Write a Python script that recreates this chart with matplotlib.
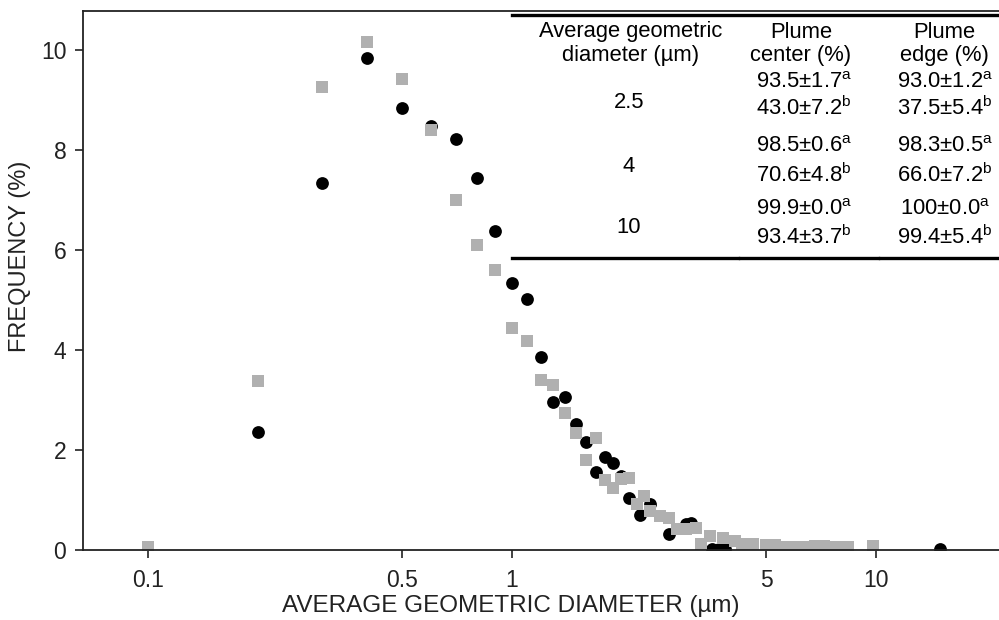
import matplotlib
matplotlib.use("Agg")
from matplotlib import pyplot as plt
from matplotlib.lines import Line2D

plt.rcParams['font.family'] = ['Liberation Sans', 'DejaVu Sans']
plt.rcParams['mathtext.fontset'] = 'custom'
plt.rcParams['mathtext.rm'] = 'Liberation Sans'

# gray squares
gray_x = [0.1, 0.2, 0.3, 0.4, 0.5, 0.6, 0.7, 0.8, 0.9, 1.0, 1.1, 1.2, 1.3, 1.4, 1.5,
          1.6, 1.7, 1.8, 1.9, 2.0, 2.1, 2.2, 2.3, 2.4, 2.55, 2.7, 2.85, 3.0, 3.2, 3.3,
          3.5, 3.8, 4.1, 4.3, 4.6, 5.0, 5.3, 5.6, 6.0, 6.4, 6.8, 7.2, 7.6, 8.0, 8.4, 9.8]
gray_y = [0.06, 3.38, 9.26, 10.16, 9.42, 8.40, 7.00, 6.10, 5.60, 4.44, 4.18, 3.40, 3.30, 2.74, 2.34,
          1.80, 2.24, 1.40, 1.24, 1.42, 1.44, 0.92, 1.08, 0.78, 0.68, 0.64, 0.42, 0.42, 0.44, 0.12,
          0.28, 0.24, 0.18, 0.12, 0.12, 0.10, 0.10, 0.06, 0.06, 0.06, 0.08, 0.08, 0.06, 0.05, 0.05, 0.08]

# black circles
black_x = [0.2, 0.3, 0.4, 0.5, 0.6, 0.7, 0.8, 0.9, 1.0, 1.1, 1.2, 1.3, 1.4, 1.5, 1.6,
           1.7, 1.8, 1.9, 2.0, 2.1, 2.25, 2.4, 2.7, 3.0, 3.1, 3.55, 3.7, 3.85, 15.0]
black_y = [2.36, 7.34, 9.84, 8.84, 8.48, 8.22, 7.44, 6.38, 5.34, 5.02, 3.86, 2.96, 3.06, 2.52, 2.16,
           1.56, 1.86, 1.74, 1.48, 1.04, 0.70, 0.92, 0.32, 0.52, 0.54, 0.02, 0.02, 0.02, 0.02]

xticks = [0.1, 0.5, 1, 5, 10]
xticklabels = ['0.1', '0.5', '1', '5', '10']
yticks = [0, 2, 4, 6, 8, 10]

# table contents
tab_header = ['Average geometric\ndiameter (µm)', 'Plume\ncenter (%)', 'Plume\nedge (%)']
tab_sizes = ['2.5', '4', '10']
tab_center = ['93.5±1.7$^{\\mathrm{a}}$', '43.0±7.2$^{\\mathrm{b}}$',
              '98.5±0.6$^{\\mathrm{a}}$', '70.6±4.8$^{\\mathrm{b}}$',
              '99.9±0.0$^{\\mathrm{a}}$', '93.4±3.7$^{\\mathrm{b}}$']
tab_edge = ['93.0±1.2$^{\\mathrm{a}}$', '37.5±5.4$^{\\mathrm{b}}$',
            '98.3±0.5$^{\\mathrm{a}}$', '66.0±7.2$^{\\mathrm{b}}$',
            '100±0.0$^{\\mathrm{a}}$', '99.4±5.4$^{\\mathrm{b}}$']

W, H = 999, 620
fig = plt.figure(figsize=(W / 100, H / 100), dpi=100)
ax = fig.add_axes([83 / W, (H - 550) / H, (W - 83) / W, 539 / H])

ax.plot(black_x, black_y, 'o', color='black', markersize=9.2, markeredgewidth=0)
ax.plot(gray_x, gray_y, 's', color='#b0b0b0', markersize=9.0, markeredgewidth=0)

ax.set_xscale('log')
ax.set_xlim(0.0663, 21.8)
ax.set_ylim(0, 10.77)
ax.set_xticks(xticks)
ax.set_xticklabels(xticklabels)
ax.minorticks_off()
ax.set_yticks(yticks)
ax.tick_params(direction='out', length=6, width=1.2, labelsize=16.5, colors='#222222', pad=6)
ax.tick_params(axis='x', pad=8)
for s in ['left', 'bottom', 'top']:
    ax.spines[s].set_linewidth(1.3)
    ax.spines[s].set_color('#222222')
ax.spines['right'].set_visible(False)


def fx(px):
    return px / W


def fy(py):
    return 1 - py / H


fig.text(fx(511), fy(606), 'AVERAGE GEOMETRIC DIAMETER (µm)', ha='center', va='center',
         fontsize=17.5, color='#222222')
fig.text(fx(20), fy(256), 'FREQUENCY (%)', ha='center', va='center', rotation=90,
         fontsize=17, color='#222222')


def hline(x0, x1, y):
    fig.add_artist(Line2D([fx(x0), fx(x1)], [fy(y), fy(y)], color='black', linewidth=2.4))


hline(512, 999, 15)
hline(512, 738, 258)
hline(740, 878, 258)
hline(880, 999, 258)

col_x = [631, 801, 944]
tfs = 15.8
for cx, txt in zip(col_x, tab_header):
    l1, l2 = txt.split('\n')
    fig.text(fx(cx), fy(32), l1, ha='center', va='center', fontsize=tfs)
    fig.text(fx(cx), fy(56), l2, ha='center', va='center', fontsize=tfs)

row_y = [82, 108, 146, 175, 209, 237]
size_y = [103, 167, 228]
for sy, s in zip(size_y, tab_sizes):
    fig.text(fx(629), fy(sy), s, ha='center', va='center', fontsize=tfs)
for ry, c, e in zip(row_y, tab_center, tab_edge):
    fig.text(fx(804), fy(ry), c, ha='center', va='center', fontsize=tfs)
    fig.text(fx(945), fy(ry), e, ha='center', va='center', fontsize=tfs)

fig.savefig('out.png', dpi=100)
